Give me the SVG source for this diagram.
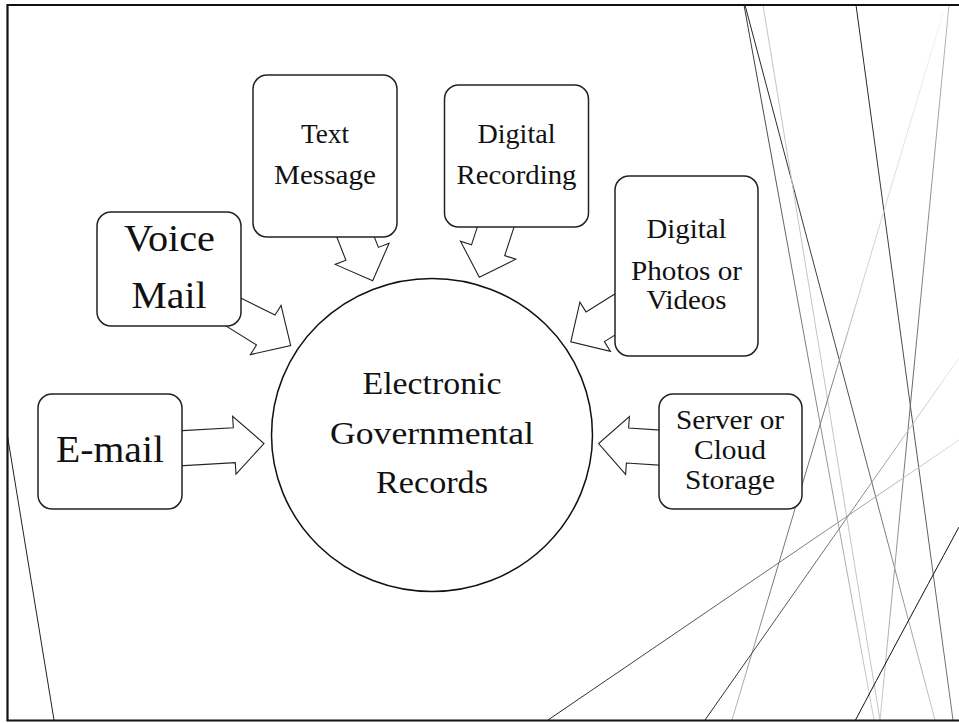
<svg xmlns="http://www.w3.org/2000/svg" width="959" height="723" viewBox="0 0 959 723">
  <style>
    .frame { fill: none; stroke: #111; stroke-width: 2.2; }
    .box { fill: #fff; stroke: #222; stroke-width: 1.5; }
    .hub { fill: #fff; stroke: #111; stroke-width: 1.5; }
    .arrow { fill: #fff; stroke: #222; stroke-width: 1.1; stroke-linejoin: miter; }
    .deco { fill: none; stroke-width: 1; }
    text { font-family: "Liberation Serif", "Times New Roman", serif; fill: #111; text-anchor: middle; }
    .big { font-size: 38px; }
    .mid { font-size: 31px; }
    .sm { font-size: 27px; }
  </style>
  <defs>
    <linearGradient id="g1" gradientUnits="userSpaceOnUse" x1="744" y1="5" x2="874" y2="720">
      <stop offset="0" stop-color="#333"/><stop offset="1" stop-color="#cfcfcf"/>
    </linearGradient>
    <linearGradient id="g2" gradientUnits="userSpaceOnUse" x1="745" y1="5" x2="935" y2="720">
      <stop offset="0" stop-color="#222"/><stop offset="0.6" stop-color="#555"/><stop offset="1" stop-color="#c8c8c8"/>
    </linearGradient>
    <linearGradient id="g4" gradientUnits="userSpaceOnUse" x1="856" y1="5" x2="953" y2="720">
      <stop offset="0" stop-color="#222"/><stop offset="1" stop-color="#777"/>
    </linearGradient>
    <linearGradient id="g5" gradientUnits="userSpaceOnUse" x1="949" y1="5" x2="880" y2="720">
      <stop offset="0" stop-color="#bbb"/><stop offset="0.55" stop-color="#666"/><stop offset="1" stop-color="#ccc"/>
    </linearGradient>
    <linearGradient id="g6" gradientUnits="userSpaceOnUse" x1="943" y1="13" x2="732" y2="720">
      <stop offset="0" stop-color="#f4f4f4"/><stop offset="0.4" stop-color="#ccc"/><stop offset="0.55" stop-color="#777"/><stop offset="0.8" stop-color="#777"/><stop offset="1" stop-color="#bbb"/>
    </linearGradient>
    <linearGradient id="gm1" gradientUnits="userSpaceOnUse" x1="548" y1="720" x2="959" y2="440">
      <stop offset="0" stop-color="#222"/><stop offset="0.6" stop-color="#777"/><stop offset="1" stop-color="#e0e0e0"/>
    </linearGradient>
    <linearGradient id="gm2" gradientUnits="userSpaceOnUse" x1="705" y1="720" x2="959" y2="358">
      <stop offset="0" stop-color="#222"/><stop offset="0.6" stop-color="#888"/><stop offset="1" stop-color="#eee"/>
    </linearGradient>
  </defs>

  <!-- background -->
  <rect x="0" y="0" width="959" height="723" fill="#fff"/>

  <!-- decorative thin lines -->
  <g id="decor">
    <line class="deco" x1="7.5" y1="436" x2="54" y2="720" stroke="#222"/>
    <line class="deco" x1="744" y1="5" x2="874" y2="720" stroke="url(#g1)"/>
    <line class="deco" x1="745" y1="5" x2="935" y2="720" stroke="url(#g2)"/>
    <line class="deco" x1="763" y1="5" x2="880" y2="720" stroke="#c4c4c4"/>
    <line class="deco" x1="856" y1="5" x2="953" y2="720" stroke="url(#g4)"/>
    <line class="deco" x1="949" y1="5" x2="880" y2="720" stroke="url(#g5)"/>
    <line class="deco" x1="943" y1="13" x2="732" y2="720" stroke="url(#g6)"/>
    <line class="deco" x1="548" y1="720" x2="959" y2="440" stroke="url(#gm1)"/>
    <line class="deco" x1="705" y1="720" x2="959" y2="358" stroke="url(#gm2)"/>
    <path class="deco" d="M855 721 Q895 645 959 527" stroke="#111"/>
  </g>

  <!-- slide frame: top, left and bottom edges -->
  <path class="frame" d="M962 5 H7.5 V720.5 H962"/>

  <!-- block arrows into the hub -->
  <g id="connectors">
    <polygon class="arrow" points="173.4,431.1 233.3,427.7 232.6,416.3 264,443.5 236,474.1 235.3,462.7 175.4,466.1"/>
    <polygon class="arrow" points="668.5,430.6 628.6,428 629.4,416.6 598.6,443.6 625.6,474.4 626.4,463 666.3,465.6"/>
    <polygon class="arrow" points="228.2,291.8 275,315.1 281.05,305.4 290.7,345.5 250.4,354.6 256.5,344.9 209.8,315.9"/>
    <polygon class="arrow" points="363.8,210.2 378.4,247.4 389.1,243.2 372.7,280.7 335.2,264.4 345.9,260.2 331.3,223"/>
    <polygon class="arrow" points="483.9,206.8 471.5,244.8 460.5,241.2 479.3,277.3 515.7,259.2 504.7,255.6 517.1,217.6"/>
    <polygon class="arrow" points="620,290.8 586,311.9 579.9,302.1 570.8,341.8 610.4,351.4 604.4,341.6 638.4,320.6"/>
  </g>

  <g id="hub">
    <ellipse class="hub" cx="432" cy="435" rx="160.5" ry="156.5"/>
    <text class="mid" x="432" y="393.5" textLength="139" lengthAdjust="spacingAndGlyphs">Electronic</text>
    <text class="mid" x="432" y="443.5" textLength="204" lengthAdjust="spacingAndGlyphs">Governmental</text>
    <text class="mid" x="432" y="493.3" textLength="112" lengthAdjust="spacingAndGlyphs">Records</text>
  </g>

  <g id="email">
    <rect class="box" x="38" y="394" width="144" height="115" rx="14"/>
    <text class="big" x="110" y="461.7" textLength="108" lengthAdjust="spacingAndGlyphs">E-mail</text>
  </g>

  <g id="voicemail">
    <rect class="box" x="97" y="212" width="144" height="114" rx="14"/>
    <text class="big" x="169.5" y="250.5" textLength="91" lengthAdjust="spacingAndGlyphs">Voice</text>
    <text class="big" x="169" y="308.3" textLength="75" lengthAdjust="spacingAndGlyphs">Mail</text>
  </g>

  <g id="textmessage">
    <rect class="box" x="253" y="75" width="144" height="162" rx="14"/>
    <text class="sm" x="325" y="142.7" textLength="48" lengthAdjust="spacingAndGlyphs">Text</text>
    <text class="sm" x="325" y="184.3" textLength="102" lengthAdjust="spacingAndGlyphs">Message</text>
  </g>

  <g id="digitalrecording">
    <rect class="box" x="444.5" y="85" width="144" height="142" rx="14"/>
    <text class="sm" x="516.5" y="142.7" textLength="78" lengthAdjust="spacingAndGlyphs">Digital</text>
    <text class="sm" x="516.5" y="184.3" textLength="120" lengthAdjust="spacingAndGlyphs">Recording</text>
  </g>

  <g id="photosvideos">
    <rect class="box" x="615" y="176" width="143" height="180" rx="14"/>
    <text class="sm" x="686.5" y="238" textLength="80" lengthAdjust="spacingAndGlyphs">Digital</text>
    <text class="sm" x="686.5" y="280" textLength="111" lengthAdjust="spacingAndGlyphs">Photos or</text>
    <text class="sm" x="686.5" y="309" textLength="80" lengthAdjust="spacingAndGlyphs">Videos</text>
  </g>

  <g id="cloudstorage">
    <rect class="box" x="659" y="394" width="143" height="115" rx="14"/>
    <text class="sm" x="730" y="429" textLength="108" lengthAdjust="spacingAndGlyphs">Server or</text>
    <text class="sm" x="730" y="459" textLength="72" lengthAdjust="spacingAndGlyphs">Cloud</text>
    <text class="sm" x="730" y="488.5" textLength="90" lengthAdjust="spacingAndGlyphs">Storage</text>
  </g>
</svg>
